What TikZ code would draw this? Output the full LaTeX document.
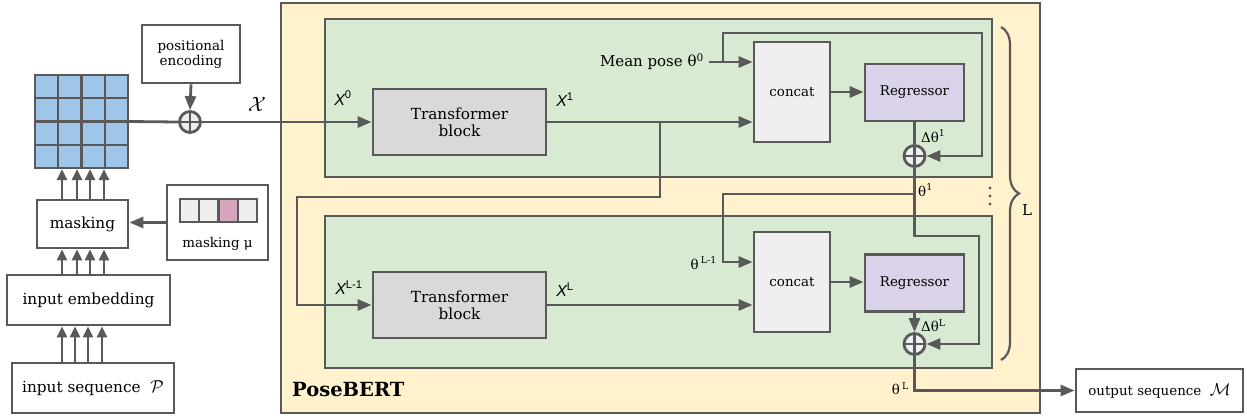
\documentclass[tikz,border=0pt]{standalone}
\usepackage{amsmath}
\usepackage{fontspec}
\setmainfont{DejaVu Serif}
\newfontfamily\xsans{Liberation Sans}
\usetikzlibrary{arrows.meta,calc,decorations.pathreplacing}
\definecolor{ln}{HTML}{595959}
\definecolor{pbyellow}{HTML}{FFF2CC}
\definecolor{blkgreen}{HTML}{D9EAD3}
\definecolor{tbgrey}{HTML}{D9D9D9}
\definecolor{lightgrey}{HTML}{EFEFEF}
\definecolor{reglav}{HTML}{D9D2E9}
\definecolor{gridblue}{HTML}{9FC5E8}
\definecolor{maskpink}{HTML}{D5A6BD}
\begin{document}
\begin{tikzpicture}[x=1pt,y=-1pt,
  line/.style={draw=ln, line width=2.8pt},
  arr/.style={line, -{Triangle[length=14pt,width=11pt]}},
  sarr/.style={line, -{Triangle[length=11pt,width=10pt]}},
  box/.style={draw=ln, line width=2.8pt, fill=white, inner sep=0pt, align=center, font=\fontsize{15.3}{18}\selectfont},
  ibox/.style={box, font=\fontsize{13.4}{16}\selectfont},
  lbl/.style={inner sep=0pt, font=\fontsize{13.4}{16}\selectfont},
  xlbl/.style={inner sep=0pt, font=\fontsize{16}{19}\selectfont\xsans\itshape},
  oplus/.style={circle, draw=ln, line width=2.8pt, fill=lightgrey, minimum size=21pt, inner sep=0pt,
    path picture={\draw[ln, line width=2.8pt] (path picture bounding box.north) -- (path picture bounding box.south)
      (path picture bounding box.west) -- (path picture bounding box.east);}},
  cell/.style={draw=ln, line width=2.2pt, fill=lightgrey},
  gbox/.style={draw=ln, line width=2.8pt, fill=blkgreen, inner sep=0pt}
]
\useasboundingbox (0,0) rectangle (1247,420);

% ---------- left column ----------
\node[draw=ln, line width=2.2pt, fill=gridblue, minimum size=93pt, inner sep=0pt] (grid) at (81.5,121.5) {};
\foreach \i in {1,2,3} {
  \draw[ln, line width=2.2pt] ($(grid.north west)!\i/4!(grid.north east)$) -- ($(grid.south west)!\i/4!(grid.south east)$);
  \draw[ln, line width=2.2pt] ($(grid.north west)!\i/4!(grid.south west)$) -- ($(grid.north east)!\i/4!(grid.south east)$);
}
\node[box, minimum width=98pt, minimum height=58pt, font=\fontsize{13.5}{16}\selectfont] (posenc) at (191,54) {positional\\[-1pt]encoding};
\node[oplus] (plus0) at (190,122) {};
\node[box, minimum width=91pt, minimum height=48pt] (masking) at (82.5,224) {masking};
\node[box, minimum width=101pt, minimum height=75pt] (maskmu) at (217.5,222.5) {};
\draw[cell] (180,199) rectangle (199.25,222);
\draw[cell] (199.25,199) rectangle (218.5,222);
\draw[cell, fill=maskpink] (218.5,199) rectangle (237.75,222);
\draw[cell] (237.75,199) rectangle (257,222);
\node[lbl] (mutext) at (217.5,244) {masking μ};
\node[box, minimum width=163pt, minimum height=50pt] (embed) at (88.5,300) {input embedding};
\node[box, minimum width=162pt, minimum height=50pt] (inseq) at (93,388) {input sequence~~{\fontsize{18}{20}\selectfont$\mathcal{P}$}};

% ---------- PoseBERT ----------
\node[draw=ln, line width=2.8pt, fill=pbyellow, minimum width=759pt, minimum height=410pt, inner sep=0pt] (posebert) at (660.5,208) {};
\node[anchor=west, inner sep=0pt, font=\fontsize{19.5}{22}\selectfont\bfseries] (pblabel) at (292,390) {PoseBERT};
\node[gbox, minimum width=667pt, minimum height=158pt] (green1) at (658.5,98) {};
\node[gbox, minimum width=667pt, minimum height=152pt] (green2) at (658.5,292) {};

\node[box, fill=tbgrey, minimum width=173pt, minimum height=66pt] (tb1) at (459.5,122) {Transformer\\[-1pt]block};
\node[box, fill=tbgrey, minimum width=173pt, minimum height=66pt] (tb2) at (459.5,305) {Transformer\\[-1pt]block};
\node[ibox, fill=lightgrey, minimum width=76pt, minimum height=100pt] (concat1) at (792,92) {concat};
\node[ibox, fill=lightgrey, minimum width=76pt, minimum height=100pt] (concat2) at (792,282) {concat};
\node[ibox, fill=reglav, minimum width=99pt, minimum height=57pt] (reg1) at (914.5,92.5) {Regressor};
\node[ibox, fill=reglav, minimum width=99pt, minimum height=57pt] (reg2) at (914.5,283) {Regressor};
\node[oplus] (plus1) at (914.5,156) {};
\node[oplus] (plus2) at (914.5,344) {};
\node[ibox, minimum width=167pt, minimum height=43pt] (out) at (1159.5,390.5) {output sequence~~{\fontsize{17}{19}\selectfont$\mathcal{M}$}};

% ---------- connectors ----------
\draw[line] (grid.east) -- (plus0.west);
\draw[arr] (posenc.south) -- (plus0.north);
\draw[arr] (plus0.east) -- (tb1.west);
\draw[arr] (maskmu.west) -- (maskmu.west -| masking.east);
\foreach \x in {62,77,90,104} {
  \draw[sarr] (masking.north -| \x,0) -- (grid.south -| \x,0);
  \draw[sarr] (embed.north -| \x,0) -- (masking.south -| \x,0);
}
\foreach \x in {62,75,88,102} {
  \draw[sarr] (inseq.north -| \x,0) -- (embed.south -| \x,0);
}

\draw[arr] (tb1.east) -- (tb1.east -| concat1.west);
\coordinate (split) at (660,122);
\coordinate (loopL) at (297,197);
\draw[arr] (split) -- (split |- loopL) -- (loopL) -- (loopL |- tb2.west) -- (tb2.west);
\draw[arr] (tb2.east) -- (tb2.east -| concat2.west);

\node[lbl, anchor=east, font=\fontsize{15}{18}\selectfont] (meanpose) at (704,62) {Mean pose θ\textsuperscript{0}};
\coordinate (mp) at (709,62);
\draw[arr] (mp) -- (mp -| concat1.west);
\coordinate (mpsplit) at (723,62);
\coordinate (loop1) at (982,33);
\draw[arr] (mpsplit) |- (loop1) |- (plus1.east);
\draw[arr] (concat1.east) -- (concat1.east -| reg1.west);
\draw[line] (reg1.south) -- (plus1.north);

\coordinate (loop2) at (979,236);
\draw[arr] (plus1.south) |- (loop2) |- (plus2.east);
\coordinate (t1) at (914.5,194);
\coordinate (t1b) at (723,194);
\coordinate (c2in) at (723,262);
\draw[arr] (t1) -- (t1b) -- (c2in) -- (c2in -| concat2.west);
\draw[arr] (concat2.east) -- (concat2.east -| reg2.west);
\draw[arr] (reg2.south) -- (plus2.north);
\draw[arr] (plus2.south) |- (out.west);

% ---------- labels ----------
\node[inner sep=0pt, font=\fontsize{20}{22}\selectfont] (xcal) at (257,104) {$\mathcal{X}$};
\node[xlbl] (x0) at (343,98) {X\textsuperscript{\upshape 0}};
\node[xlbl] (x1) at (565,100) {X\textsuperscript{\upshape 1}};
\node[xlbl] (xl1) at (349,288) {X\textsuperscript{\upshape L-1}};
\node[xlbl] (xl) at (565,290) {X\textsuperscript{\upshape L}};
\node[lbl, anchor=west] (dt1) at (921,136) {Δθ\textsuperscript{1}};
\node[lbl, anchor=west] (th1) at (918,190) {θ\textsuperscript{1}};
\node[lbl, anchor=east] (thl1) at (717,263) {θ\,\textsuperscript{L-1}};
\node[lbl, anchor=west] (dtl) at (921,326) {Δθ\textsuperscript{L}};
\node[lbl, anchor=east] (thl) at (909,389) {θ\,\textsuperscript{L}};

% ---------- brace and dots ----------
\draw[ln, line width=2.2pt, decorate, decoration={brace, amplitude=18pt}] (1001,27) -- (1001,360);
\node[inner sep=0pt, font=\fontsize{15}{18}\selectfont] (Llbl) at (1027,210) {L};
\foreach \y in {188,196,204} \fill[ln] (990,\y) circle (1.6pt);
\end{tikzpicture}
\end{document}
